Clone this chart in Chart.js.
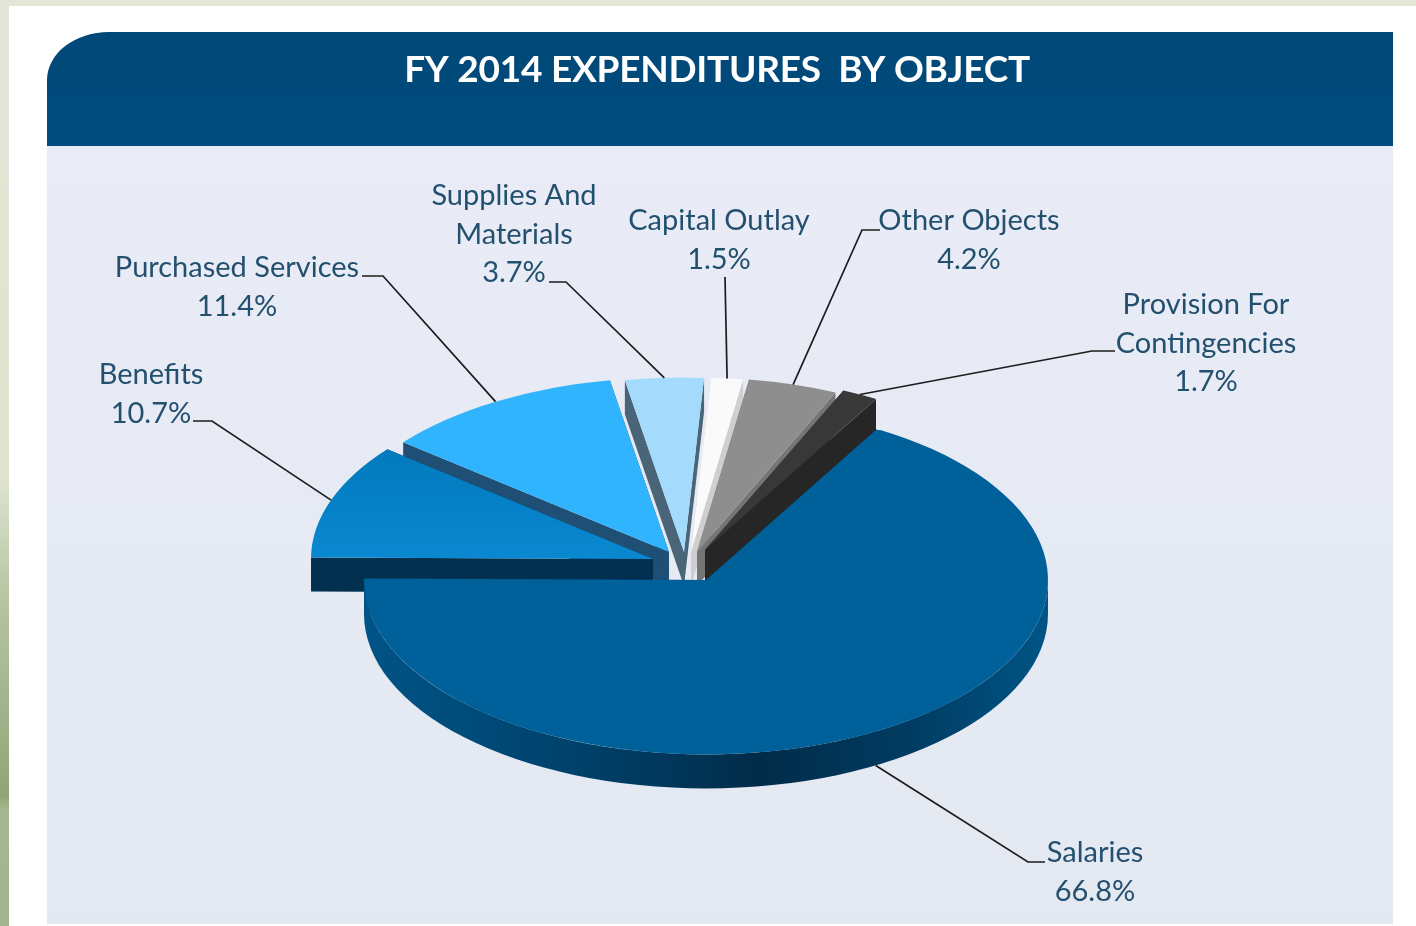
<!DOCTYPE html>
<html>
<head>
<meta charset="utf-8">
<title>FY 2014 Expenditures By Object</title>
<script src="https://cdn.jsdelivr.net/npm/chart.js@4"></script>
<style>
html, body { margin: 0; padding: 0; }
body { width: 1416px; height: 926px; overflow: hidden; position: relative;
  background: linear-gradient(180deg, #e3e7d8 0%, #dde3cf 52%, #b8c6a3 64%, #8fa578 86%, #a6b78f 87.5%, #a3b58c 100%); }
#frame { position: absolute; left: 9px; top: 6px; width: 1407px; height: 920px; background: #fff; }
#panel { position: absolute; left: 47px; top: 146px; width: 1346px; height: 778px;
  background: linear-gradient(180deg, #e9ecf6 0%, #e3e8f1 100%); }
#header { position: absolute; left: 47px; top: 32px; width: 1346px; height: 114px;
  border-top-left-radius: 62px 48px; background: linear-gradient(180deg, #004877 0%, #004c7f 100%); }
#wrap { position: absolute; left: 0; top: 0; width: 1416px; height: 926px; }
</style>
</head>
<body>
<div id="frame"></div>
<div id="panel"></div>
<div id="header"></div>
<div id="wrap"><canvas id="objectChart"></canvas></div>
<script>
const chartTitle = 'FY 2014 EXPENDITURES  BY OBJECT';
const categoryLines = [
    ['Salaries'],
    ['Benefits'],
    ['Purchased Services'],
    ['Supplies And', 'Materials'],
    ['Capital Outlay'],
    ['Other Objects'],
    ['Provision For', 'Contingencies']
];
const categories = categoryLines.map(l => l.join(' '));
const values = [66.8, 10.7, 11.4, 3.7, 1.5, 4.2, 1.7];

const topColors = ['#00609a', '#0580c8', '#30b4fd', '#a4dbfc', '#fafafa', '#8e8e8e', '#383838'];
const wallColors = ['#003a60', '#02304f', '#1f4f74', '#4a6478', '#cfcfcf', '#757575', '#262626'];

// how far each slice is pulled out, in screen px
const sliceShift = [[0, 0], [-53, -21], [-37, -28], [-22, -28], [-15, -28], [-9, -28], [-1, -30]];
// back to front
const drawOrder = [4, 5, 6, 3, 2, 1, 0];
const squash = 0.51;
const depth = 34;

// text centre x and first line y, then the leader elbow
const labelPos = [
    {x: 1095, y: 853, from: [1045, 862], elbow: [1028, 862]},
    {x: 151, y: 375, from: [193, 421], elbow: [212, 421]},
    {x: 237, y: 268, from: [362, 276], elbow: [383, 276]},
    {x: 514, y: 196, from: [549, 282], elbow: [566, 282]},
    {x: 719, y: 221, from: [725, 277], elbow: [725, 277]},
    {x: 969, y: 221, from: [880, 230], elbow: [862, 230]},
    {x: 1206, y: 305, from: [1115, 351], elbow: [1092, 351]}
];
const lineGap = 38.5;

function drawWalls(ctx, arc, i) {
    const cx = arc.x + sliceShift[i][0];
    const cy = arc.y + sliceShift[i][1];
    const r = arc.outerRadius;
    ctx.fillStyle = wallColors[i];
    [arc.startAngle, arc.endAngle].forEach(a => {
        const ex = cx + Math.cos(a) * r;
        const ey = cy + Math.sin(a) * r * squash;
        ctx.beginPath();
        ctx.moveTo(cx, cy);
        ctx.lineTo(ex, ey);
        ctx.lineTo(ex, ey + depth);
        ctx.lineTo(cx, cy + depth);
        ctx.closePath();
        ctx.fill();
    });
    // rim, only the part facing us
    const a0 = Math.max(arc.startAngle, 0);
    const a1 = Math.min(arc.endAngle, Math.PI);
    if (a1 > a0) {
        const g = ctx.createLinearGradient(cx - r, 0, cx + r, 0);
        g.addColorStop(0, '#005486');
        g.addColorStop(0.3, '#00426c');
        g.addColorStop(0.58, '#012c49');
        g.addColorStop(0.8, '#003c62');
        g.addColorStop(1, '#005586');
        ctx.fillStyle = g;
        ctx.beginPath();
        ctx.ellipse(cx, cy, r, r * squash, 0, a0, a1);
        ctx.ellipse(cx, cy + depth, r, r * squash, 0, a1, a0, true);
        ctx.closePath();
        ctx.fill();
    }
}

const pie3d = {
    id: 'pie3d',
    beforeDatasetDraw(chart, args) {
        const ctx = chart.ctx;
        const arcs = args.meta.data;
        drawOrder.forEach(i => {
            const arc = arcs[i];
            drawWalls(ctx, arc, i);
            ctx.save();
            ctx.translate(arc.x + sliceShift[i][0], arc.y + sliceShift[i][1]);
            ctx.scale(1, squash);
            ctx.translate(-arc.x, -arc.y);
            arc.draw(ctx);
            ctx.restore();
        });
        return false;
    },
    afterDraw(chart) {
        const ctx = chart.ctx;
        const arcs = chart.getDatasetMeta(0).data;
        ctx.save();
        ctx.textAlign = 'center';
        ctx.textBaseline = 'middle';
        ctx.fillStyle = '#fff';
        ctx.font = 'bold 37px Lato';
        ctx.letterSpacing = '-0.25px';
        ctx.fillText(chartTitle, 717, 70);
        ctx.letterSpacing = '0px';

        ctx.font = '29px Lato';
        arcs.forEach((arc, i) => {
            const p = labelPos[i];
            ctx.fillStyle = '#23506f';
            const rows = categoryLines[i].concat(values[i].toFixed(1) + '%');
            rows.forEach((t, n) => ctx.fillText(t, p.x, p.y + n * lineGap));

            const mid = (arc.startAngle + arc.endAngle) / 2;
            const tipX = arc.x + sliceShift[i][0] + Math.cos(mid) * arc.outerRadius;
            let tipY = arc.y + sliceShift[i][1] + Math.sin(mid) * arc.outerRadius * squash;
            if (Math.sin(mid) > 0) tipY += depth;
            ctx.strokeStyle = '#1c1c1c';
            ctx.lineWidth = 1.7;
            ctx.beginPath();
            ctx.moveTo(p.from[0], p.from[1]);
            ctx.lineTo(p.elbow[0], p.elbow[1]);
            ctx.lineTo(tipX, tipY);
            ctx.stroke();
        });
        ctx.restore();
    }
};

const chartCtx = document.getElementById('objectChart').getContext('2d');
// Benefits gets a little lighter towards its lower edge
const benefitsFill = chartCtx.createLinearGradient(0, 310, 0, 580);
benefitsFill.addColorStop(0, '#0076b8');
benefitsFill.addColorStop(1, '#0a88d0');

new Chart(chartCtx, {
    type: 'pie',
    data: {
        labels: categories,
        datasets: [{
            data: values,
            backgroundColor: topColors.map((c, i) => i === 1 ? benefitsFill : c),
            borderWidth: 0
        }]
    },
    options: {
        responsive: true,
        maintainAspectRatio: false,
        animation: false,
        rotation: 30,
        radius: 342,
        layout: { padding: { top: 234, right: 4 } },
        plugins: { legend: { display: false }, tooltip: { enabled: false } }
    },
    plugins: [pie3d]
});
</script>
</body>
</html>
